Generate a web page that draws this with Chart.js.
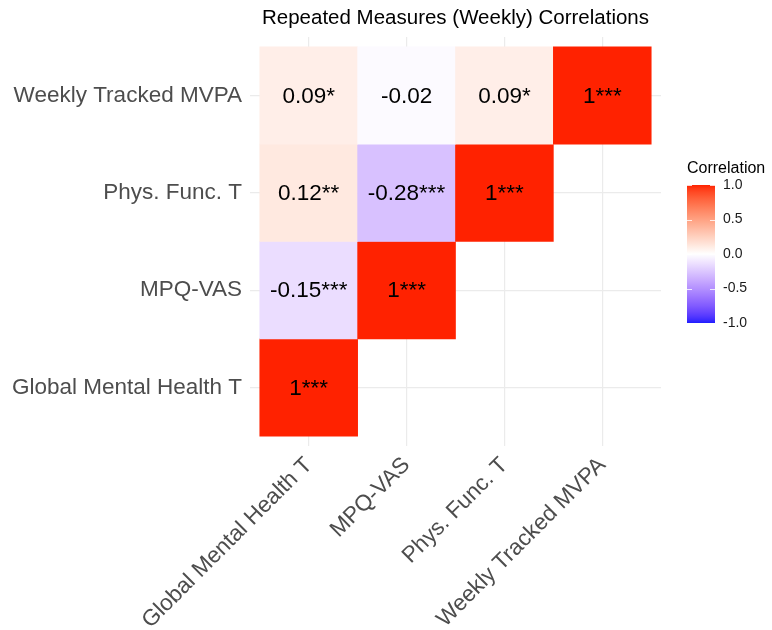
<!DOCTYPE html>
<html>
<head>
<meta charset="utf-8">
<script src="https://cdn.jsdelivr.net/npm/chart.js@4"></script>
<style>
  body { margin: 0; background: #fff; }
  canvas { display: block; }
</style>
</head>
<body>
<canvas id="corrChart" width="772" height="630"></canvas>
<script>
// Variables in axis order (x left to right, y bottom to top)
const variables = ['Global Mental Health T', 'MPQ-VAS', 'Phys. Func. T', 'Weekly Tracked MVPA'];

// Lower triangle cells: column, row (1-based positions), value and significance stars
const cellCol = [1, 1, 2, 1, 2, 3, 1, 2, 3, 4];
const cellRow = [1, 2, 2, 3, 3, 3, 4, 4, 4, 4];
const correlations = [1, -0.15, 1, 0.12, -0.28, 1, 0.09, -0.02, 0.09, 1];
const stars = ['***', '***', '***', '**', '***', '***', '*', '', '*', '***'];

// Colour bar breaks
const legendBreaks = [1.0, 0.5, 0.0, -0.5, -1.0];

const FONT = '"Liberation Sans", Arial, Helvetica, sans-serif';
Chart.defaults.font.family = FONT;

// diverging scale: blue - white - red, interpolated in Lab like ggplot
const lowColor = '#1E1EFF';
const midColor = '#FFFFFF';
const highColor = '#FF2200';

function hexToRgb(h) {
    return [1, 3, 5].map(i => parseInt(h.slice(i, i + 2), 16));
}
function rgbToLab(rgb) {
    const lin = c => { c /= 255; return c <= 0.04045 ? c / 12.92 : Math.pow((c + 0.055) / 1.055, 2.4); };
    const R = lin(rgb[0]), G = lin(rgb[1]), B = lin(rgb[2]);
    const X = (R * 0.4124 + G * 0.3576 + B * 0.1805) / 0.95047;
    const Y = R * 0.2126 + G * 0.7152 + B * 0.0722;
    const Z = (R * 0.0193 + G * 0.1192 + B * 0.9505) / 1.08883;
    const f = t => t > 0.008856 ? Math.cbrt(t) : 7.787 * t + 16 / 116;
    return [116 * f(Y) - 16, 500 * (f(X) - f(Y)), 200 * (f(Y) - f(Z))];
}
function labToRgb(lab) {
    const fy = (lab[0] + 16) / 116, fx = fy + lab[1] / 500, fz = fy - lab[2] / 200;
    const finv = t => t * t * t > 0.008856 ? t * t * t : (t - 16 / 116) / 7.787;
    const X = finv(fx) * 0.95047, Y = finv(fy), Z = finv(fz) * 1.08883;
    const R = 3.2406 * X - 1.5372 * Y - 0.4986 * Z;
    const G = -0.9689 * X + 1.8758 * Y + 0.0415 * Z;
    const B = 0.0557 * X - 0.2040 * Y + 1.0570 * Z;
    const gam = c => {
        c = c <= 0.0031308 ? 12.92 * c : 1.055 * Math.pow(c, 1 / 2.4) - 0.055;
        return Math.round(Math.min(1, Math.max(0, c)) * 255);
    };
    return 'rgb(' + gam(R) + ',' + gam(G) + ',' + gam(B) + ')';
}
const labLow = rgbToLab(hexToRgb(lowColor));
const labMid = rgbToLab(hexToRgb(midColor));
const labHigh = rgbToLab(hexToRgb(highColor));

function fillColor(v) {
    const t = Math.min(1, Math.abs(v));
    const end = v < 0 ? labLow : labHigh;
    return labToRgb(labMid.map((m, i) => m + (end[i] - m) * t));
}

// cell labels drawn on top of the tiles
const cellLabels = {
    id: 'cellLabels',
    afterDatasetsDraw(chart) {
        const ctx = chart.ctx;
        const xs = chart.scales.x, ys = chart.scales.y;
        ctx.save();
        ctx.font = '22.5px ' + FONT;
        ctx.fillStyle = '#000';
        ctx.textAlign = 'center';
        ctx.textBaseline = 'middle';
        correlations.forEach((r, i) => {
            ctx.fillText(String(r) + stars[i], xs.getPixelForValue(cellCol[i]), ys.getPixelForValue(cellRow[i]) + 1);
        });
        ctx.restore();
    }
};

// colour bar legend on the right
const colorBar = {
    id: 'colorBar',
    afterDraw(chart) {
        const ctx = chart.ctx;
        const area = chart.chartArea;
        const x0 = area.right + 26, w = 28;
        const top = 185, bottom = 323;
        ctx.save();
        const grad = ctx.createLinearGradient(0, top, 0, bottom);
        for (let k = 0; k <= 40; k++) {
            const v = 1 - k / 20;
            grad.addColorStop(k / 40, fillColor(v));
        }
        ctx.fillStyle = grad;
        ctx.fillRect(x0, top, w, bottom - top);

        const yOf = v => top + (1 - v) / 2 * (bottom - top);
        ctx.strokeStyle = 'rgba(255,255,255,0.8)';
        ctx.lineWidth = 1;
        legendBreaks.forEach(v => {
            const y = Math.round(yOf(v)) + 0.5;
            ctx.beginPath();
            ctx.moveTo(x0, y); ctx.lineTo(x0 + 5, y);
            ctx.moveTo(x0 + w - 5, y); ctx.lineTo(x0 + w, y);
            ctx.stroke();
        });

        ctx.fillStyle = '#1a1a1a';
        ctx.font = '14px ' + FONT;
        ctx.textAlign = 'left';
        ctx.textBaseline = 'middle';
        legendBreaks.forEach(v => {
            ctx.fillText(v.toFixed(1), x0 + w + 8, yOf(v));
        });

        ctx.fillStyle = '#000';
        ctx.font = '16px ' + FONT;
        ctx.fillText('Correlation', x0, 169);
        ctx.restore();
    }
};

const tileData = correlations.map((r, i) => ({ x: cellCol[i], y: [cellRow[i] - 0.5, cellRow[i] + 0.5] }));
const positions = variables.map((v, i) => ({ value: i + 1 }));

new Chart(document.getElementById('corrChart'), {
    type: 'bar',
    data: {
        datasets: [{
            data: tileData,
            backgroundColor: correlations.map(fillColor),
            borderWidth: 0,
            barPercentage: 1,
            categoryPercentage: 1
        }]
    },
    options: {
        responsive: false,
        animation: false,
        layout: { padding: { left: 0, right: 111, top: 0, bottom: 0 } },
        plugins: {
            legend: { display: false },
            tooltip: { enabled: false },
            title: {
                display: true,
                fullSize: false,
                text: 'Repeated Measures (Weekly) Correlations',
                color: '#000',
                font: { size: 20.5, weight: 'normal', lineHeight: 1.2 },
                padding: { top: 6, bottom: 6.4 }
            }
        },
        scales: {
            x: {
                type: 'linear',
                min: 0.4,
                max: 4.6,
                offset: false,
                afterBuildTicks: s => { s.ticks = positions.map(p => ({ value: p.value })); },
                afterFit: s => { s.height = 184; },
                border: { display: false },
                grid: { offset: false, color: '#EBEBEB', lineWidth: 1.2, drawTicks: false },
                ticks: {
                    autoSkip: false,
                    maxRotation: 45,
                    minRotation: 45,
                    padding: 6,
                    color: '#4D4D4D',
                    font: { size: 22.5 },
                    callback: v => variables[v - 1]
                }
            },
            y: {
                type: 'linear',
                min: 0.4,
                max: 4.6,
                afterBuildTicks: s => { s.ticks = positions.map(p => ({ value: p.value })); },
                afterFit: s => { s.width = 250; },
                border: { display: false },
                grid: { color: '#EBEBEB', lineWidth: 1.2, drawTicks: false },
                ticks: {
                    padding: 8,
                    color: '#4D4D4D',
                    font: { size: 22.5 },
                    callback: v => variables[v - 1]
                }
            }
        }
    },
    plugins: [cellLabels, colorBar]
});
</script>
</body>
</html>
